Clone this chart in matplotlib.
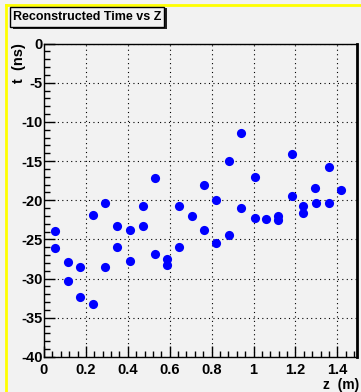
import matplotlib

matplotlib.use("Agg")
import matplotlib.pyplot as plt
from matplotlib.patches import Rectangle
from matplotlib.ticker import MultipleLocator

# reconstructed hits: z position (m) and time (ns)
z_m = [0.053, 0.053, 0.116, 0.116, 0.172, 0.172, 0.236, 0.236, 0.293, 0.293,
       0.350, 0.350, 0.411, 0.411, 0.472, 0.472, 0.532, 0.532, 0.589, 0.589,
       0.646, 0.646, 0.708, 0.764, 0.764, 0.823, 0.823, 0.885, 0.885, 0.941,
       0.941, 1.006, 1.006, 1.062, 1.119, 1.119, 1.183, 1.183, 1.238, 1.238,
       1.294, 1.300, 1.359, 1.359, 1.417]
t_ns = [-23.96, -26.08, -27.89, -30.30, -28.49, -32.30, -33.19, -21.85, -20.33, -28.49,
        -23.32, -25.91, -23.79, -27.73, -20.75, -23.32, -17.11, -26.80, -27.47, -28.32,
        -20.75, -25.91, -21.98, -18.05, -23.79, -19.99, -25.44, -15.00, -24.39, -11.36,
        -21.04, -16.98, -22.27, -22.36, -22.06, -22.56, -14.11, -19.44, -20.71, -21.68,
        -18.46, -20.33, -15.76, -20.33, -18.63]

x_ticks = [0, 0.2, 0.4, 0.6, 0.8, 1.0, 1.2, 1.4]
x_ticklabels = ["0", "0.2", "0.4", "0.6", "0.8", "1", "1.2", "1.4"]
y_ticks = [-40, -35, -30, -25, -20, -15, -10, -5, 0]

title = "Reconstructed Time vs Z"
x_label = "z  (m)"
y_label = "t  (ns)"

BG = "#f2f2f2"
W, H = 361, 392

plt.rcParams["font.family"] = ["Liberation Sans", "DejaVu Sans"]
plt.rcParams["axes.unicode_minus"] = False

fig = plt.figure(figsize=(W / 100, H / 100), dpi=100, facecolor=BG)

# axes frame in pixels: left 44, right 357, top 43.5, bottom 357
ax = fig.add_axes([44 / W, 1 - 357 / H, (357 - 44) / W, (357 - 43.5) / H])
ax.set_facecolor(BG)
ax.plot(z_m, t_ns, "o", color="#0000ff", markersize=6.6, markeredgewidth=0)

ax.set_xlim(0, 1.494)
ax.set_ylim(-40, 0)
ax.xaxis.set_minor_locator(MultipleLocator(0.04))
ax.yaxis.set_minor_locator(MultipleLocator(1))
ax.set_xticks(x_ticks)
ax.set_xticklabels(x_ticklabels)
ax.set_yticks(y_ticks)
ax.set_yticklabels([str(v) for v in y_ticks])

ax.tick_params(which="both", direction="in", top=False, right=False, color="black")
ax.tick_params(which="major", length=8, width=1, labelsize=10.5)
ax.tick_params(axis="x", which="major", pad=4)
ax.tick_params(axis="y", which="major", pad=1)
ax.tick_params(which="minor", length=4, width=1)
for lab in ax.get_xticklabels() + ax.get_yticklabels():
    lab.set_fontweight("bold")

ax.grid(True, which="major", color="black", linestyle=(0, (1, 3)), linewidth=0.8)
for side in ax.spines.values():
    side.set_linewidth(1.0)
ax.spines["right"].set_linewidth(2.0)

fig.text(359 / W, 1 - 389 / H, x_label, ha="right", va="baseline", fontsize=10,
         fontweight="bold")
fig.text(19 / W, 1 - 43 / H, y_label, ha="center", va="top", rotation=90, fontsize=10.5,
         fontweight="bold")

# pad border (yellow top and left)
fig.add_artist(plt.Line2D([6 / W, 1], [1 - 5 / H, 1 - 5 / H], color="#ffff00", lw=2,
                          transform=fig.transFigure))
fig.add_artist(plt.Line2D([6 / W, 6 / W], [0, 1 - 5 / H], color="#ffff00", lw=2,
                          transform=fig.transFigure))

# title box with shadow
fig.add_artist(Rectangle((13 / W, 1 - 29 / H), 154 / W, 21 / H, transform=fig.transFigure,
                         fc="#222222", ec="none", zorder=3))
fig.add_artist(Rectangle((10 / W, 1 - 27 / H), 154 / W, 20 / H, transform=fig.transFigure,
                         fc=BG, ec="black", lw=1, zorder=4))
fig.text(13 / W, 1 - 17 / H, title, ha="left", va="center", fontsize=9, fontweight="bold",
         zorder=5)

fig.savefig("out.png", dpi=100, facecolor=BG)
